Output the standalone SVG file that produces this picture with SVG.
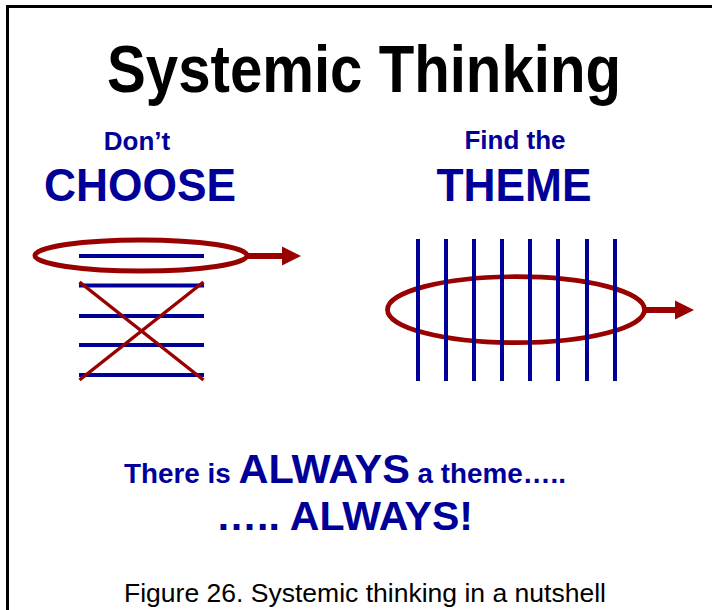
<svg xmlns="http://www.w3.org/2000/svg" width="712" height="610" viewBox="0 0 712 610">
<style>
text{font-family:"Liberation Sans",Arial,sans-serif;font-weight:bold;}
.blue{fill:#000099;}
.bl{stroke:#000099;stroke-width:4;fill:none;}
.rd{stroke:#990000;fill:none;}
.cap{font-weight:normal;fill:#000;}
</style>
<defs>
<marker id="ah" markerUnits="userSpaceOnUse" markerWidth="20" markerHeight="20" refX="0" refY="10" orient="auto" viewBox="0 0 20 20">
<path d="M0,0.5 L19,10 L0,19.5 Z" fill="#990000"/>
</marker>
</defs>
<rect width="712" height="610" fill="#fff"/>
<path d="M7.5,610 V6.5 H712" fill="none" stroke="#000" stroke-width="3"/>
<g id="title"><text x="364" y="92" font-size="67" text-anchor="middle" textLength="514" lengthAdjust="spacingAndGlyphs">Systemic Thinking</text></g>
<g id="choose">
<text class="blue" x="137" y="149.5" font-size="26" text-anchor="middle">Don’t</text>
<text class="blue" x="140" y="200.5" font-size="46" text-anchor="middle" textLength="192" lengthAdjust="spacingAndGlyphs">CHOOSE</text>
<g class="bl">
<line x1="79" y1="256" x2="204" y2="256"/>
<line x1="79" y1="285.5" x2="204" y2="285.5"/>
<line x1="79" y1="316" x2="204" y2="316"/>
<line x1="79" y1="345" x2="204" y2="345"/>
<line x1="79" y1="375" x2="204" y2="375"/>
</g>
<g class="rd" stroke-width="3.5">
<line x1="79.5" y1="282" x2="203.5" y2="380"/>
<line x1="203.5" y1="282" x2="79.5" y2="380"/>
</g>
<ellipse class="rd" cx="141" cy="255.5" rx="106" ry="15.5" stroke-width="5"/>
</g>
<g id="theme">
<text class="blue" x="515" y="149" font-size="26" text-anchor="middle">Find the</text>
<text class="blue" x="514" y="200.5" font-size="46" text-anchor="middle" textLength="155" lengthAdjust="spacingAndGlyphs">THEME</text>
<ellipse class="rd" cx="516" cy="309.7" rx="128.5" ry="33" stroke-width="4.7"/>
<g class="bl" stroke-width="3.7">
<line x1="418" y1="239" x2="418" y2="381"/>
<line x1="446" y1="239" x2="446" y2="381"/>
<line x1="474" y1="239" x2="474" y2="381"/>
<line x1="502" y1="239" x2="502" y2="381"/>
<line x1="530" y1="239" x2="530" y2="381"/>
<line x1="558" y1="239" x2="558" y2="381"/>
<line x1="587" y1="239" x2="587" y2="381"/>
<line x1="615" y1="239" x2="615" y2="381"/>
</g>
</g>
<g id="connectors">
<line class="rd" x1="248" y1="256" x2="282" y2="256" stroke-width="6" marker-end="url(#ah)"/>
<line class="rd" x1="645" y1="310" x2="675" y2="310" stroke-width="6" marker-end="url(#ah)"/>
</g>
<g id="message">
<text class="blue" x="345" y="483" text-anchor="middle" textLength="442" lengthAdjust="spacingAndGlyphs"><tspan font-size="27.5">There is </tspan><tspan font-size="41">ALWAYS</tspan><tspan font-size="27.5"> a theme…..</tspan></text>
<text class="blue" x="344.5" y="530" font-size="41" text-anchor="middle" textLength="257" lengthAdjust="spacingAndGlyphs">….. ALWAYS!</text>
</g>
<g id="caption"><text class="cap" x="365" y="602" font-size="26.5" text-anchor="middle" textLength="482" lengthAdjust="spacingAndGlyphs">Figure 26. Systemic thinking in a nutshell</text></g>
</svg>
